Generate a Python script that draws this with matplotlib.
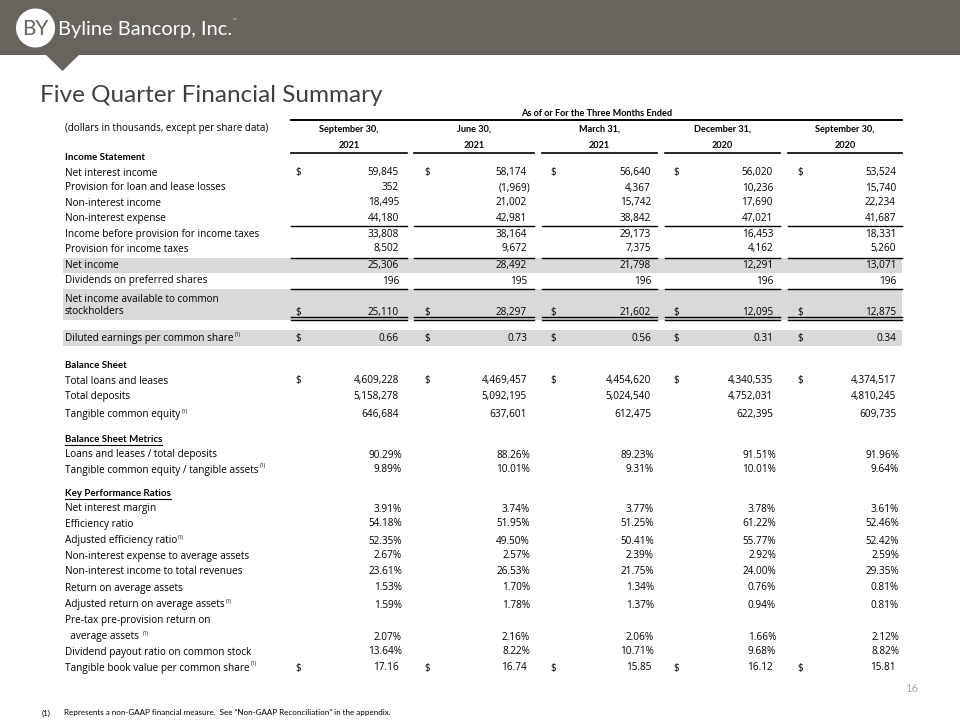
import matplotlib.pyplot as plt
from matplotlib.patches import Circle, Polygon, Rectangle

plt.rcParams['font.family'] = ['Lato', 'DejaVu Sans']

# Column headers
quarters = ["September 30,", "June 30,", "March 31,", "December 31,", "September 30,"]
years = ["2021", "2021", "2021", "2020", "2020"]

# Income statement ($ thousands)
income_labels = ["Net interest income", "Provision for loan and lease losses",
                 "Non-interest income", "Non-interest expense",
                 "Income before provision for income taxes", "Provision for income taxes",
                 "Net income", "Dividends on preferred shares"]
income_values = [
    [59845, 58174, 56640, 56020, 53524],
    [352, -1969, 4367, 10236, 15740],
    [18495, 21002, 15742, 17690, 22234],
    [44180, 42981, 38842, 47021, 41687],
    [33808, 38164, 29173, 16453, 18331],
    [8502, 9672, 7375, 4162, 5260],
    [25306, 28492, 21798, 12291, 13071],
    [196, 195, 196, 196, 196],
]
net_to_common = [25110, 28297, 21602, 12095, 12875]
diluted_eps = [0.66, 0.73, 0.56, 0.31, 0.34]

# Balance sheet ($ thousands)
balance_labels = ["Total loans and leases", "Total deposits", "Tangible common equity"]
balance_values = [
    [4609228, 4469457, 4454620, 4340535, 4374517],
    [5158278, 5092195, 5024540, 4752031, 4810245],
    [646684, 637601, 612475, 622395, 609735],
]

# Balance sheet metrics (%)
metric_labels = ["Loans and leases / total deposits", "Tangible common equity / tangible assets"]
metric_values = [
    [90.29, 88.26, 89.23, 91.51, 91.96],
    [9.89, 10.01, 9.31, 10.01, 9.64],
]

# Key performance ratios (%)
kpr_labels = ["Net interest margin", "Efficiency ratio", "Adjusted efficiency ratio",
              "Non-interest expense to average assets", "Non-interest income to total revenues",
              "Return on average assets", "Adjusted return on average assets",
              "Pre-tax pre-provision return on\n  average assets ",
              "Dividend payout ratio on common stock"]
kpr_values = [
    [3.91, 3.74, 3.77, 3.78, 3.61],
    [54.18, 51.95, 51.25, 61.22, 52.46],
    [52.35, 49.50, 50.41, 55.77, 52.42],
    [2.67, 2.57, 2.39, 2.92, 2.59],
    [23.61, 26.53, 21.75, 24.00, 29.35],
    [1.53, 1.70, 1.34, 0.76, 0.81],
    [1.59, 1.78, 1.37, 0.94, 0.81],
    [2.07, 2.16, 2.06, 1.66, 2.12],
    [13.64, 8.22, 10.71, 9.68, 8.82],
]
tbv_per_share = [17.16, 16.74, 15.85, 16.12, 15.81]

# layout (pixel space)
col_left = [291, 414, 542, 665, 788]
col_right = [407, 534, 657, 780, 902]
val_x = [399, 527, 651, 773, 896]
dollar_x = [295, 424, 550, 673, 797]
label_x = 65
FS = 6.6      # column headers
HFS = 7.0     # section headings
BFS = 7.2     # body labels and values
BODY = ['Open Sans', 'DejaVu Sans']
GREY = '#d9d9d9'

fig = plt.figure(figsize=(9.6, 7.2), dpi=100)
ax = fig.add_axes([0, 0, 1, 1])
ax.set_xlim(0, 960)
ax.set_ylim(720, 0)
ax.axis('off')

fig.canvas.draw()
renderer = fig.canvas.get_renderer()

# header bar and logo
ax.add_patch(Rectangle((0, 0), 960, 55, color='#67645e', lw=0))
ax.add_patch(Polygon([(45, 54), (80, 54), (62.5, 71)], closed=True, color='#67645e', lw=0))
ax.add_patch(Circle((35.5, 28), 19.5, color='white', lw=0))
ax.text(35.5, 29, "BY", color='#67645e', fontsize=15, ha='center', va='center')
brand = ax.text(58, 29.5, "Byline Bancorp, Inc.", color='white', fontsize=14.4, ha='left',
                va='center')
bb = brand.get_window_extent(renderer=renderer)
ax.text(bb.x1 + 1, 21, "™", color='white', fontsize=3.5, ha='left', va='center')

ax.text(40, 95, "Five Quarter Financial Summary", color='#404040', fontsize=17.5,
        ha='left', va='center')

# table header
ax.text(596.5, 113, "As of or For the Three Months Ended", fontsize=FS, fontweight='bold',
        ha='center', va='center')
ax.plot([291, 902], [119.5, 119.5], color='black', lw=1.4)
ax.text(label_x, 129, "(dollars in thousands, except per share data)", fontsize=7,
        ha='left', va='center', family=BODY)
for i in range(5):
    cx = (col_left[i] + col_right[i]) / 2
    ax.text(cx, 129, quarters[i], fontsize=FS, fontweight='bold', ha='center', va='center')
    ax.text(cx, 145, years[i], fontsize=FS, fontweight='bold', ha='center', va='center')
    ax.plot([col_left[i], col_right[i]], [152.5, 152.5], color='black', lw=1.2)


def label(y, text, sup=False, bold=False):
    if bold:
        t = ax.text(label_x, y, text, fontsize=HFS, ha='left', va='center', fontweight='bold')
    else:
        t = ax.text(label_x, y, text, fontsize=BFS, ha='left', va='center', family=BODY)
    if sup:
        bb = t.get_window_extent(renderer=renderer)
        ax.text(bb.x1 + 1, 720 - bb.y1 + 1.5, "(1)", fontsize=3.8, ha='left', va='center',
                family=BODY)
    return t


def money(v):
    if v < 0:
        return "({:,})".format(-v)
    return "{:,}".format(v)


def row_values(y, vals, fmt, dollar=False, shift=0):
    for i, v in enumerate(vals):
        s = fmt(v)
        dx = 3 if s.startswith("(") else 0
        ax.text(val_x[i] + dx + shift, y, s, fontsize=BFS, ha='right', va='center', family=BODY)
        if dollar:
            ax.text(dollar_x[i], y, "$", fontsize=BFS, ha='left', va='center', family=BODY)


def underline(y, lw=1.0):
    for i in range(5):
        ax.plot([col_left[i], col_right[i]], [y, y], color='black', lw=lw)


# shaded bands
for y0, y1 in [(258, 273), (289, 320), (330, 346)]:
    ax.add_patch(Rectangle((label_x - 2, y0), 902 - label_x + 2, y1 - y0, color=GREY, lw=0))

# income statement
label(157, "Income Statement", bold=True)
inc_y = [173, 188, 203, 218, 234, 249, 265.5, 281]
for k, (lab, vals) in enumerate(zip(income_labels, income_values)):
    label(inc_y[k], lab)
    row_values(inc_y[k], vals, money, dollar=(k == 0))
underline(226)
underline(257.5)
underline(289)
label(299, "Net income available to common")
label(312, "stockholders")
row_values(312, net_to_common, money, dollar=True)
underline(316.5, lw=1.0)
underline(319.5, lw=1.0)
label(338.5, "Diluted earnings per common share", sup=True)
row_values(338.5, diluted_eps, lambda v: "{:.2f}".format(v), dollar=True)

# balance sheet
label(366, "Balance Sheet", bold=True)
bal_y = [381, 397, 415]
for k, (lab, vals) in enumerate(zip(balance_labels, balance_values)):
    label(bal_y[k], lab, sup=(k == 2))
    row_values(bal_y[k], vals, money, dollar=(k == 0))

pct = lambda v: "{:.2f}%".format(v)
t = label(439, "Balance Sheet Metrics", bold=True)
bb = t.get_window_extent(renderer=renderer)
ax.plot([label_x, bb.x1], [445, 445], color='black', lw=0.8)
met_y = [455, 470]
for k, (lab, vals) in enumerate(zip(metric_labels, metric_values)):
    label(met_y[k], lab, sup=(k == 1))
    row_values(met_y[k], vals, pct, shift=3)

t = label(493, "Key Performance Ratios", bold=True)
bb = t.get_window_extent(renderer=renderer)
ax.plot([label_x, bb.x1], [499, 499], color='black', lw=0.8)
kpr_y = [509, 524, 541, 556, 572, 588, 605, 637, 652]
kpr_sup = [False, False, True, False, False, False, True, True, False]
for k, (lab, vals) in enumerate(zip(kpr_labels, kpr_values)):
    if "\n" in lab:
        first, second = lab.split("\n")
        label(620, first)
        label(kpr_y[k], second, sup=True)
    else:
        label(kpr_y[k], lab, sup=kpr_sup[k])
    row_values(kpr_y[k], vals, pct, shift=3)
label(668, "Tangible book value per common share", sup=True)
row_values(668, tbv_per_share, lambda v: "{:.2f}".format(v), dollar=True)

# page number and footnote
ax.text(918, 688, "16", fontsize=8, color='#a6a6a6', ha='right', va='center')
ax.text(42, 713, "(1)", fontsize=5.8, ha='left', va='center')
ax.text(64, 713, "Represents a non-GAAP financial measure.  See \u201cNon-GAAP Reconciliation\u201d in the appendix.",
        fontsize=5.8, ha='left', va='center')

fig.savefig("out.png", dpi=100)
